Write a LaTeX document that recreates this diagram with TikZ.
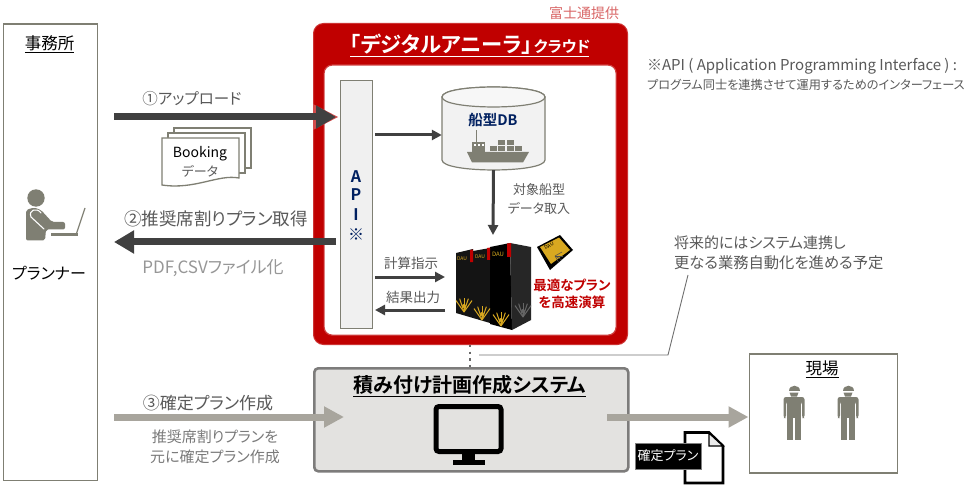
\documentclass[tikz,border=0pt]{standalone}
\usepackage{fontspec}
\setmainfont[RawFeature=+palt,BoldFont={Noto Sans CJK JP Bold}]{Noto Sans CJK JP}
\usetikzlibrary{arrows.meta,calc}
\definecolor{boxline}{HTML}{7F7F73}
\definecolor{txtgray}{HTML}{595959}
\definecolor{ltgray}{HTML}{A6A6A6}
\definecolor{darkarrow}{HTML}{404040}
\definecolor{greyarrow}{HTML}{A8A59D}
\definecolor{fj}{HTML}{C00000}
\definecolor{navy}{HTML}{002060}
\definecolor{iconfill}{HTML}{7F7F73}
\definecolor{sysfill}{HTML}{E3E2E0}
\definecolor{gold}{HTML}{D8A820}
\newcommand{\fs}[1]{\fontsize{#1}{#1}\selectfont}
\tikzset{
  plainbox/.style={draw=boxline,line width=1.6pt,fill=white},
  lbl/.style={inner sep=0pt,outer sep=0pt,align=center,text=txtgray},
  fatdark/.style={draw=darkarrow,line width=7pt,-{Triangle[length=20pt,width=22pt]}},
  fatgrey/.style={draw=greyarrow,line width=7pt,-{Triangle[length=20pt,width=20pt]}},
  thinarrow/.style={draw=darkarrow,line width=3pt,-{Triangle[length=10pt,width=10pt]}},
  docsheet/.style={draw=boxline,line width=1.3pt,fill=white},
  tower/.style={fill=black!92,draw=none},
}
\newcommand{\goldfan}[3]{%
  \foreach \a in {55,72,90,108,125}{\draw[#3,line width=1pt] (#1,#2) -- ++(\a:14pt);}
  \fill[#3] (#1,#2-6) circle (2pt);
}
\newcommand{\worker}[1]{%
  \fill[iconfill] (#1-5.5,390.5) .. controls (#1-5.5,384) and (#1+5.5,384) .. (#1+5.5,390.5) -- cycle;
  \fill[iconfill] (#1-4.5,392.5) -- (#1+4.5,392.5) -- (#1+3,396.5) -- (#1-3,396.5) -- cycle;
  \fill[iconfill,rounded corners=2.5pt] (#1-10.5,418) -- (#1-10.5,397) -- (#1+10.5,397) -- (#1+10.5,418) -- (#1+8,418) -- (#1+8,402) -- (#1-8,402) -- (#1-8,418) -- cycle;
  \fill[iconfill] (#1-6.8,399) rectangle (#1+6.8,418);
  \fill[iconfill] (#1-6.8,417) rectangle (#1-0.8,440);
  \fill[iconfill] (#1+0.8,417) rectangle (#1+6.8,440);
}
\begin{document}
\begin{tikzpicture}[x=1pt,y=-1pt]
\useasboundingbox (0,0) rectangle (979,494);
\fill[white] (0,0) rectangle (979,494);

% office
\node[plainbox,minimum width=94pt,minimum height=456pt,anchor=north west,inner sep=0pt] (office) at (2.5,23.5) {};
\node[lbl,text=black] (officet) at (49.5,44) {\fs{16.5}\underline{事務所}};
\fill[iconfill] (36,198) circle (8.7pt);
\fill[iconfill,rounded corners=2pt] (26,240.5) -- (26,210) -- (34,207.5) -- (41,210) -- (52,222) -- (65,222) -- (65,229.5) -- (46,229.5) -- (45,240.5) -- cycle;
\draw[white,line width=1.1pt,line cap=round] (44,229) -- (31,217) .. controls (28,210) and (37,207) .. (41,213);
\draw[iconfill,line width=2.8pt] (51,234.5) -- (78,234.5);
\draw[iconfill,line width=1.2pt] (76,235) -- (85,208);
\node[lbl,text=black] (planner) at (49,273) {\fs{16}プランナー};

% red cloud
\node[fill=fj,draw=fj!80!white,line width=1pt,rounded corners=10pt,minimum width=314pt,minimum height=321pt,anchor=north west,inner sep=0pt] (cloud) at (313,23) {};
\node[fill=white,draw=fj!75!white,line width=1.2pt,rounded corners=8pt,minimum width=292pt,minimum height=270pt,anchor=north west,inner sep=0pt] (inner) at (323.5,64.5) {};
\node[lbl,text=white,anchor=base west] (cloudt1) at (350,53) {\fs{21.3}\bfseries 「デジタルアニーラ」\hspace{1.5pt}\fs{15.5}クラウド};
\draw[white,line width=1pt] (350,57) -- (589,57);
\node[lbl,text=fj!60!white] (fuji) at (584,13) {\fs{14}富士通提供};

% note
\node[lbl,anchor=west] (note1) at (647,66) {\fs{15}※API ( Application Programming Interface ) :};
\node[lbl,anchor=west] (note2) at (647,85) {\fs{12.2}プログラム同士を連携させて運用するためのインターフェース};

% API
\node[draw=boxline,fill=black!6,line width=1.4pt,minimum width=32pt,minimum height=248pt,anchor=north west,inner sep=0pt] (api) at (340,80) {};
\foreach \n/\t/\yy in {a/A/177,p/P/195,i/I/215,s/※/235}{\node[lbl,text=navy] (api\n) at (356,\yy) {\fs{16}\bfseries \t};}

% DB cylinder
\node[minimum width=103pt,minimum height=83pt,inner sep=0pt] (db) at (493.5,128.5) {};
\path[draw=boxline,line width=1.2pt,fill=black!5] (442,97) .. controls (442,83.7) and (545,83.7) .. (545,97) -- (545,160) .. controls (545,173.3) and (442,173.3) .. (442,160) -- cycle;
\path[draw=boxline,line width=1.2pt,fill=black!3] (442,97) .. controls (442,83.7) and (545,83.7) .. (545,97) .. controls (545,110.3) and (442,110.3) .. (442,97) -- cycle;
\node[lbl,text=navy] (dbt) at (493,120) {\fs{14.5}\bfseries 船型DB};
% ship
\fill[iconfill] (467,152) -- (529,152) -- (523,162.5) -- (472,162.5) -- cycle;
\fill[iconfill] (472,142) rectangle (485,152);
\fill[iconfill] (475.5,130) rectangle (477,142);
\foreach \xx in {474,478,481.5}{\fill[white] (\xx,144.5) rectangle ++(2,2);}
\foreach \xx in {490,498,506.5,515}{\fill[iconfill] (\xx,146) rectangle ++(7.3,5);}
\foreach \xx in {498,506.5}{\fill[iconfill] (\xx,140) rectangle ++(7.3,5);}

% arrows in cloud
\coordinate (apidb) at (375,135);
\draw[thinarrow] (apidb) -- (db.west |- apidb);
\coordinate (srvtop) at (493,235);
\draw[thinarrow] (db.south) -- (srvtop);
\node[lbl] (ts1) at (539,190) {\fs{13}対象船型};
\node[lbl] (ts2) at (539,208) {\fs{13}データ取入};
\coordinate (calcs) at (375,277); \coordinate (calce) at (445,277);
\coordinate (rese) at (375,310); \coordinate (ress) at (445,310);
\draw[thinarrow] (calcs) -- (calce);
\draw[thinarrow] (ress) -- (rese);
\node[lbl] (calc) at (411,263) {\fs{13.5}計算指示};
\node[lbl] (res) at (413,297) {\fs{13.5}結果出力};

% servers
\fill[tower] (456,253) -- (473,249) -- (473,318) -- (456,313) -- cycle;
\fill[tower] (473,251) -- (490,248) -- (490,323) -- (473,318) -- cycle;
\fill[black] (490,247) -- (510,243) -- (512,330) -- (490,324) -- cycle;
\fill[black!85] (510,243) -- (531,247) -- (531,320) -- (512,330) -- cycle;
\fill[fj] (470,250) -- (473,249.5) -- (473,262) -- (470,262) -- cycle;
\fill[fj] (487,248) -- (490,247.5) -- (490,260) -- (487,260) -- cycle;
\fill[fj] (507,243.5) -- (511,243) -- (511,257) -- (507,257) -- cycle;
\node[lbl,text=gold] (dau1) at (462,259) {\fs{5}DAU};
\node[lbl,text=gold] (dau2) at (480,257) {\fs{5}DAU};
\node[lbl,text=gold] (dau3) at (498,254) {\fs{6}DAU};
\goldfan{464}{312}{gold}
\goldfan{482}{320}{gold}
\goldfan{501}{326}{gold}
\goldfan{523}{317}{black!60}
% card
\fill[black] (537,247) -- (560,235) -- (573,250) -- (550,270) -- cycle;
\fill[gold] (540,247) -- (559,237.5) -- (570,250) -- (551,264) -- cycle;
\node[lbl,text=black,rotate=28] (dau4) at (549,246) {\fs{5}DAU};
\foreach \a in {-60,-30,0,30}{\draw[black!70,line width=0.5pt] (555,256) -- ++(\a:8pt);}
\node[lbl,text=fj] (best1) at (572,285) {\fs{13.5}\bfseries 最適なプラン};
\node[lbl,text=fj] (best2) at (572,302) {\fs{13.5}\bfseries を高速演算};

% system
\node[fill=sysfill,draw=black!45!sysfill,line width=2.6pt,rounded corners=4pt,minimum width=314pt,minimum height=103pt,anchor=north west,inner sep=0pt] (sys) at (313,367) {};
\node[lbl,text=black,anchor=base] (syst) at (470,392) {\fs{20}\bfseries 積み付け計画作成システム};
\draw[black,line width=1pt] (353,396.5) -- (586,396.5);
\draw[black,line width=5pt,rounded corners=3pt] (436,406.5) rectangle (501,451.5);
\fill[black] (462,453) rectangle (475,460);
\fill[black] (453,459.5) rectangle (485,465);

% dotted link & leader
\coordinate (dots) at (470,345); \coordinate (dote) at (470,367);
\draw[ltgray!40!darkarrow,line width=2.4pt,dash pattern=on 2.4pt off 4.2pt] (dots) -- (dote);
\coordinate (leads) at (479,355); \coordinate (leadm) at (668,355); \coordinate (leade) at (688,275);
\draw[black!55,line width=0.9pt] (leads) -- (leadm) -- (leade);
\node[lbl,anchor=west] (fut1) at (674,243) {\fs{15}将来的にはシステム連携し};
\node[lbl,anchor=west] (fut2) at (674,263) {\fs{15.3}更なる業務自動化を進める予定};

% arrow 1
\coordinate (a1s) at (114,117); \coordinate (a1e) at (336,117);
\fill[fj!70!white] (313,104) -- (338,117) -- (313,130) -- cycle;
\draw[fatdark] (a1s) -- (a1e);
\node[lbl] (a1t) at (192,99) {\fs{15.5}①アップロード};
% Booking
\draw[docsheet] (174,128) rectangle (251,168);
\draw[docsheet] (168,133) rectangle (245,173);
\path[docsheet] (162,138) -- (239,138) -- (239,178) .. controls (218,174) and (195,190) .. (162,185) -- cycle;
\node[lbl,text=black] (book) at (200,154) {\fs{14}Booking};
\node[lbl,text=txtgray] (bookd) at (200,171) {\fs{13}データ};

% arrow 2
\coordinate (a2s) at (336,242); \coordinate (a2e) at (114,242);
\draw[fatdark] (a2s) -- (a2e);
\node[lbl] (a2t) at (216,219) {\fs{17.5}②推奨席割りプラン取得};
\node[lbl,text=ltgray!80!txtgray] (pdf) at (213,268) {\fs{17}PDF,CSVファイル化};

% arrow 3
\coordinate (a3s) at (114,417); \coordinate (a3e) at (344,417);
\draw[fatgrey] (a3s) -- (a3e);
\node[lbl] (a3t) at (208,403) {\fs{17}③確定プラン作成};
\node[lbl,text=txtgray!80!white] (a3u) at (215,437) {\fs{15}推奨席割りプランを};
\node[lbl,text=txtgray!80!white] (a3v) at (215,457) {\fs{15}元に確定プラン作成};

% site
\node[plainbox,minimum width=148pt,minimum height=119pt,anchor=north west,inner sep=0pt] (site) at (748.5,353) {};
\node[lbl,text=black] (sitet) at (822,369) {\fs{16.5}\underline{現場}};
\worker{794}
\worker{848}

% arrow 4
\coordinate (a4s) at (607,417);
\draw[fatgrey] (a4s) -- (site.west |- a4s);

% document
\path[draw=black,fill=white,line width=2.6pt,line join=miter] (685,432.5) -- (709,432.5) -- (723,446) -- (723,483) -- (685,483) -- cycle;
\path[draw=black,fill=black!8,line width=1.4pt] (709,433) -- (709,446) -- (723,446) -- cycle;
\node[fill=black,draw=black!50,line width=0.6pt,minimum width=66pt,minimum height=26pt,inner sep=0pt,text=white] (plan) at (668,456) {\fs{13}確定プラン};
\end{tikzpicture}
\end{document}
